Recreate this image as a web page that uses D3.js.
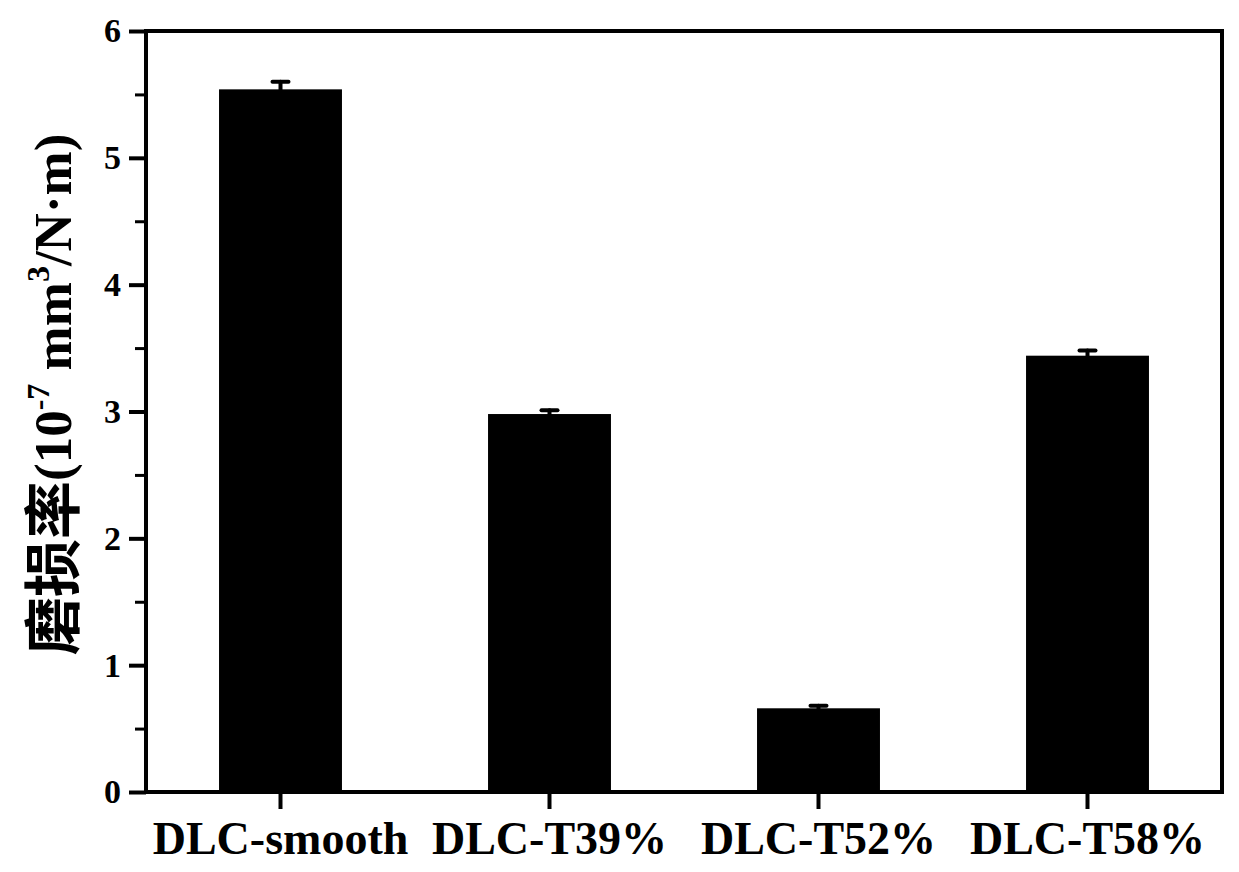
<!DOCTYPE html>
<html>
<head>
<meta charset="utf-8">
<script src="https://cdn.jsdelivr.net/npm/d3@7"></script>
<style>
  html, body { margin: 0; padding: 0; background: #fff; }
  svg { display: block; }
</style>
</head>
<body>
<svg id="chart" width="1239" height="872"></svg>
<script>
const categories = ["DLC-smooth", "DLC-T39%", "DLC-T52%", "DLC-T58%"];
const values = [5.54, 2.98, 0.66, 3.44];
const errors = [0.06, 0.03, 0.02, 0.04];
const yTicks = [0, 1, 2, 3, 4, 5, 6];
const yMinorTicks = [0.5, 1.5, 2.5, 3.5, 4.5, 5.5];

(function () {
const svg = d3.select("#chart");
const mLeft = 146, mRight = 1222, mTop = 31, mBottom = 792;
const serif = "'Liberation Serif', 'Times New Roman', serif";

const x = d3.scaleBand().domain(categories).range([mLeft, mRight])
  .paddingInner(0.543).paddingOuter(0.2715);
const y = d3.scaleLinear().domain([0, 6]).range([mBottom, mTop]);

// bars
svg.append("g").selectAll("rect").data(values).join("rect")
  .attr("x", (d, i) => x(categories[i]))
  .attr("width", x.bandwidth())
  .attr("y", d => y(d))
  .attr("height", d => y(0) - y(d))
  .attr("fill", "#000");

// error bars
const eb = svg.append("g").attr("stroke", "#000").attr("stroke-width", 4).attr("stroke-linecap", "round");
values.forEach((v, i) => {
  const cx = x(categories[i]) + x.bandwidth() / 2;
  eb.append("line").attr("x1", cx).attr("x2", cx).attr("y1", y(v)).attr("y2", y(v + errors[i]));
  eb.append("line").attr("x1", cx - 8).attr("x2", cx + 8).attr("y1", y(v + errors[i])).attr("y2", y(v + errors[i]));
});

// y axis
const yAxis = d3.axisLeft(y).tickValues(yTicks).tickFormat(d3.format("d")).tickSize(17).tickPadding(8);
const gy = svg.append("g").attr("transform", `translate(${mLeft},0)`).call(yAxis);
gy.select(".domain").remove();
gy.selectAll(".tick line").attr("stroke-width", 4);
gy.selectAll(".tick text").attr("font-family", serif).attr("font-weight", "bold")
  .attr("font-size", 34).attr("fill", "#000");

const yMinor = d3.axisLeft(y).tickValues(yMinorTicks).tickFormat("").tickSize(11);
const gym = svg.append("g").attr("transform", `translate(${mLeft},0)`).call(yMinor);
gym.select(".domain").remove();
gym.selectAll(".tick line").attr("stroke-width", 3);

// x axis
const xAxis = d3.axisBottom(x).tickSize(17).tickPadding(12);
const gx = svg.append("g").attr("transform", `translate(0,${mBottom})`).call(xAxis);
gx.select(".domain").remove();
gx.selectAll(".tick line").attr("stroke-width", 4);
gx.selectAll(".tick text").attr("font-family", serif).attr("font-weight", "bold")
  .attr("font-size", 46).attr("fill", "#000");

// frame
svg.append("rect").attr("x", mLeft).attr("y", mTop).attr("width", mRight - mLeft).attr("height", mBottom - mTop)
  .attr("fill", "none").attr("stroke", "#000").attr("stroke-width", 4);

// y label
const lab = svg.append("text")
  .attr("transform", `translate(74, 655) rotate(-90)`)
  .attr("text-anchor", "start")
  .attr("fill", "#000")
  .attr("font-weight", "bold");
lab.append("tspan").attr("font-family", "'Noto Sans CJK SC', sans-serif").attr("font-size", 58).text("磨损率");
lab.append("tspan").attr("font-family", serif).attr("font-size", 53).attr("dy", -3).text("(10");
lab.append("tspan").attr("font-family", serif).attr("font-size", 32).attr("dy", -22).text("-7");
lab.append("tspan").attr("font-family", serif).attr("font-size", 53).attr("dy", 22).text(" mm");
lab.append("tspan").attr("font-family", serif).attr("font-size", 32).attr("dy", -22).text("3");
lab.append("tspan").attr("font-family", serif).attr("font-size", 53).attr("dy", 22).text("/N·m)");
})();
</script>
</body>
</html>
